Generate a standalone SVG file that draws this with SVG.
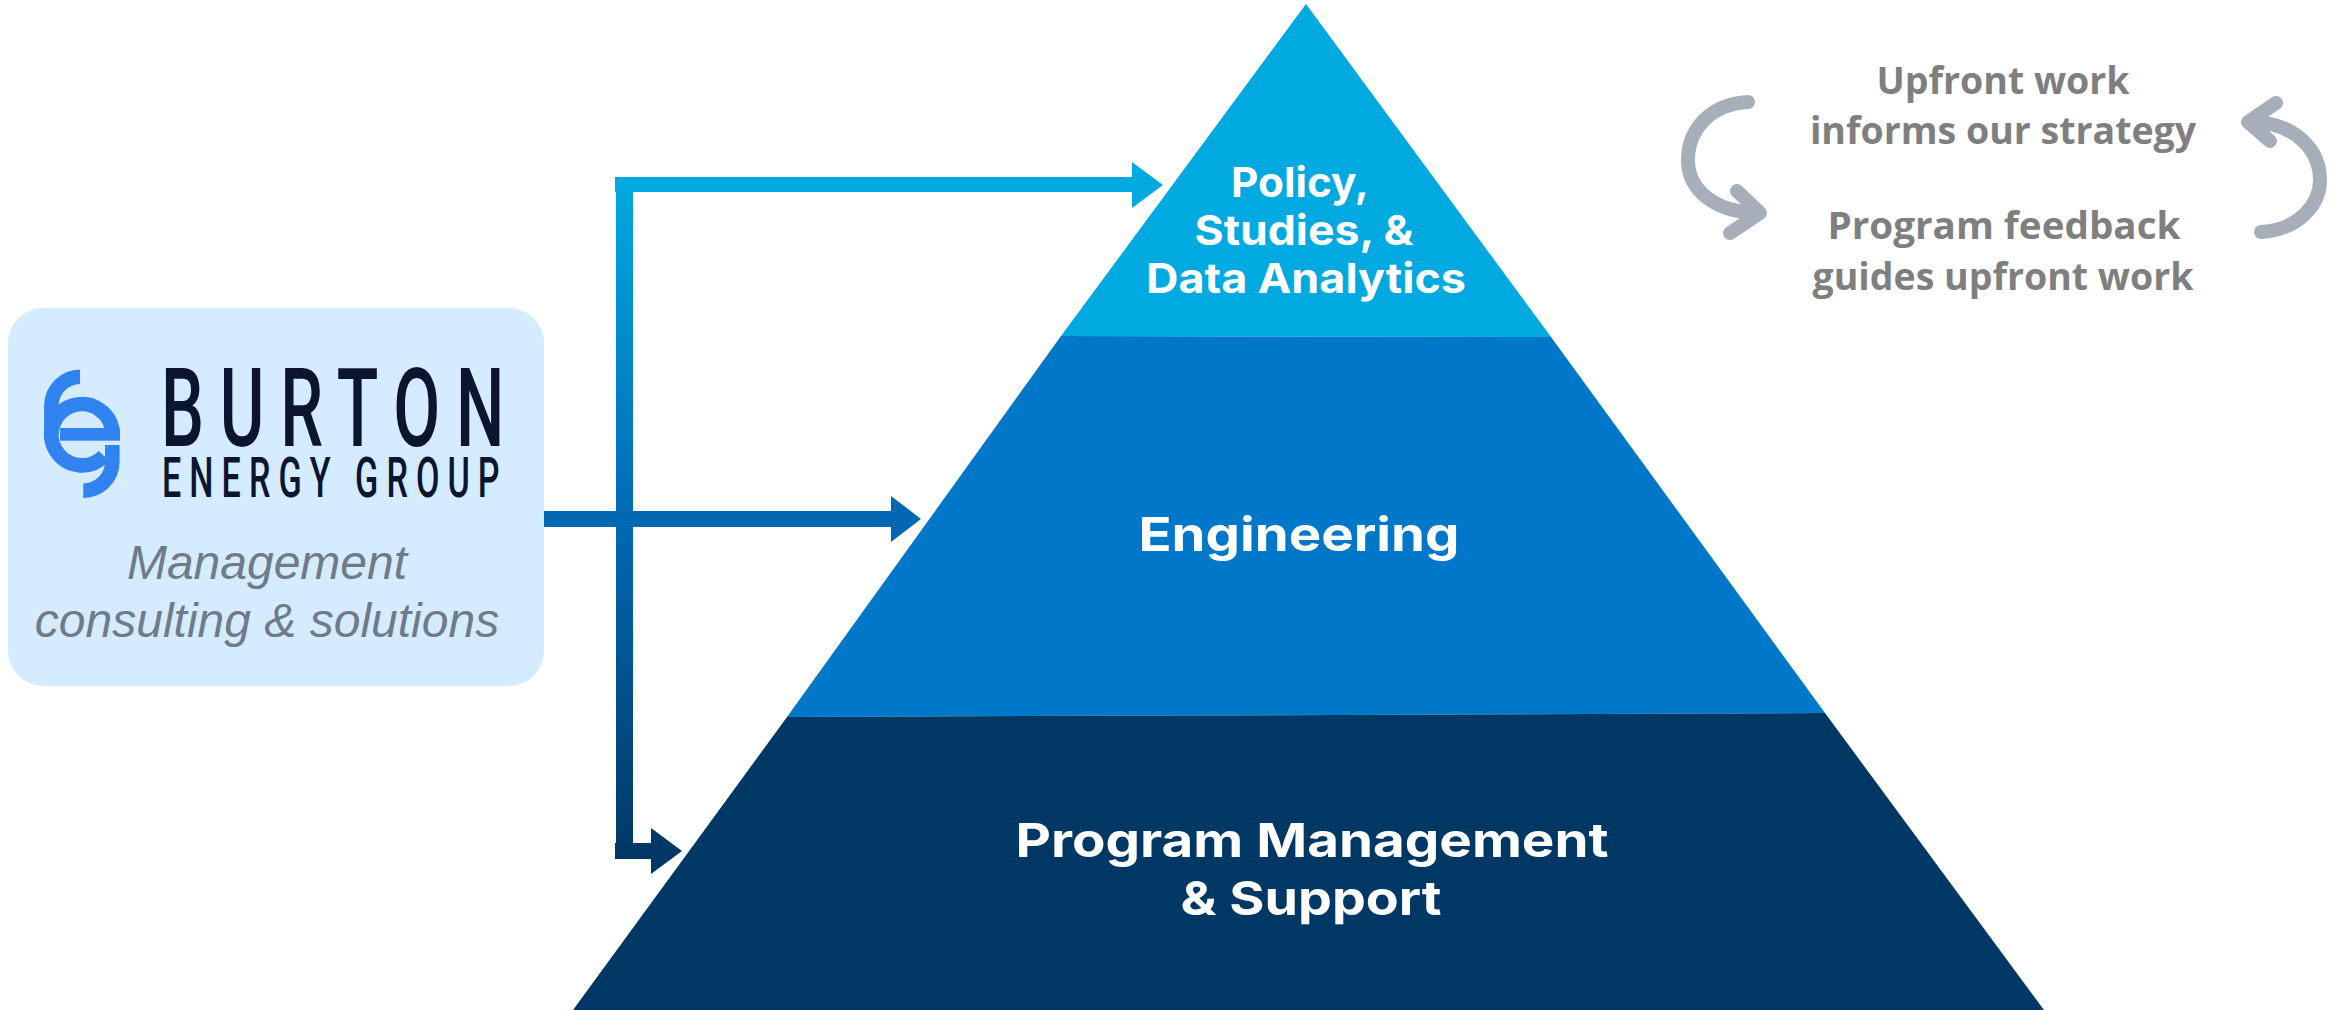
<svg xmlns="http://www.w3.org/2000/svg" width="2336" height="1010" viewBox="0 0 2336 1010">
<style>
.lab{font-family:"Inter","Noto Sans",sans-serif;font-weight:700;fill:#fff;text-anchor:middle}
.gr{font-family:"Open Sans","Noto Sans",sans-serif;font-weight:700;font-size:37.5px;fill:#7f7f7f;text-anchor:middle}
.it{font-family:"Liberation Sans",Arial,sans-serif;font-style:italic;font-size:48px;fill:#6f7b8a;text-anchor:middle}
.logo{font-family:"Roboto","Liberation Sans",sans-serif;font-weight:500;fill:#0b1530}
.ring{fill:none;stroke:#3183f0;stroke-width:14.6}
.cyc{fill:none;stroke:#a5aeb9;stroke-width:14;stroke-linecap:round;stroke-linejoin:round}
</style>
<defs>
<linearGradient id="g" gradientUnits="userSpaceOnUse" x1="0" y1="185" x2="0" y2="859">
<stop offset="0" stop-color="#00a9e0"/><stop offset=".5" stop-color="#0069b4"/><stop offset="1" stop-color="#003865"/>
</linearGradient>
</defs>
<g id="tier-policy">
<polygon points="1306,4 1551,337 1061,336" fill="#00a9e0"/>
<text class="lab" font-size="41" x="1300" y="197" textLength="138" lengthAdjust="spacingAndGlyphs">Policy,</text>
<text class="lab" font-size="41" x="1304" y="245" textLength="219" lengthAdjust="spacingAndGlyphs">Studies, &amp;</text>
<text class="lab" font-size="41" x="1306" y="293" textLength="320" lengthAdjust="spacingAndGlyphs">Data Analytics</text>
</g>
<g id="tier-engineering">
<polygon points="1061,336 1551,337 1825,713 787,717" fill="#0077c8"/>
<text class="lab" font-size="47" x="1299" y="551" textLength="321" lengthAdjust="spacingAndGlyphs">Engineering</text>
</g>
<g id="tier-program">
<polygon points="787,717 1825,713 2044,1010 573,1010" fill="#003865"/>
<text class="lab" font-size="47" x="1312" y="857" textLength="593" lengthAdjust="spacingAndGlyphs">Program Management</text>
<text class="lab" font-size="47" x="1311" y="915" textLength="261" lengthAdjust="spacingAndGlyphs">&amp; Support</text>
</g>
<g id="connectors">
<rect x="616" y="185" width="17" height="674" fill="url(#g)"/>
<path d="M615 177H1132V162L1163 185L1132 208V192H615Z" fill="#00a9e0"/>
<path d="M544 511H891V496L921 519L891 542V527H544Z" fill="#0067b2"/>
<path d="M615 843H651V828L682 851L651 874V859H615Z" fill="#003865"/>
</g>
<g id="burton-box">
<rect x="8" y="308" width="536" height="378" rx="35" fill="#d5ebff"/>
<path class="ring" d="M112.6 434A30.6 30.6 0 1 0 104 456"/>
<path class="ring" d="M51.4 434V405A29 29 0 0 1 80 376.7"/>
<path class="ring" d="M112.3 445V462A29 29 0 0 1 83.3 490.7"/>
<rect x="60" y="428" width="60" height="12.7" fill="#3183f0"/>
<text class="logo" font-size="110" transform="translate(161,446) scale(.62,1)" letter-spacing="25.5">BURTON</text>
<text class="logo" font-size="55" transform="translate(162,497) scale(.62,1)" letter-spacing="13">ENERGY GROUP</text>
<text class="it" x="267" y="579">Management</text>
<text class="it" x="267" y="637">consulting &amp; solutions</text>
</g>
<g id="feedback">
<text class="gr" x="2003" y="94">Upfront work</text>
<text class="gr" x="2003" y="144">informs our strategy</text>
<text class="gr" x="2004" y="239" textLength="353" lengthAdjust="spacingAndGlyphs">Program feedback</text>
<text class="gr" x="2003" y="290">guides upfront work</text>
<path class="cyc" d="M1748 102C1710 104 1688 130 1688 160C1688 190 1715 213 1760 213M1737 191L1760 213L1730 233"/>
<path class="cyc" d="M2261 232C2298 230 2320 205 2320 180C2320 150 2295 122 2250 122M2276 103L2248 122L2270 141"/>
</g>
</svg>
